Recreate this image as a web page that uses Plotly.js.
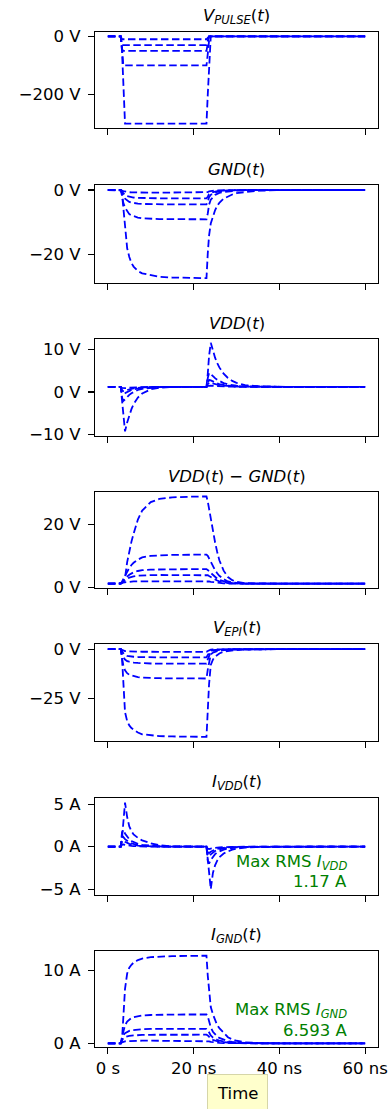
<!DOCTYPE html>
<html>
<head>
<meta charset="utf-8">
<script src="https://cdn.plot.ly/plotly-3.0.1.min.js"></script>
<style>html,body{margin:0;padding:0;background:#fff;}#chart{width:388px;height:1109px;}</style>
</head>
<body>
<div id="chart"></div>
<script>
// time samples (ns)
const t_ns = [0, 3, 3.3, 3.6, 4, 4.5, 5, 5.5, 6, 7, 8, 10, 12, 15, 19, 23, 23.3, 23.6, 24, 24.5, 25, 25.5, 26, 27, 28, 29, 30, 32, 35, 40, 50, 60];

// series order: pulse of -10, -30, -50, -100, -300 V
const seriesNames = ['-10 V', '-30 V', '-50 V', '-100 V', '-300 V'];

const vPulse = [
  [0,0,-10,-10,-10,-10,-10,-10,-10,-10,-10,-10,-10,-10,-10,-10, -5,0,0,0,0,0,0,0,0,0,0,0,0,0,0,0],
  [0,0,-30,-30,-30,-30,-30,-30,-30,-30,-30,-30,-30,-30,-30,-30, -15,0,0,0,0,0,0,0,0,0,0,0,0,0,0,0],
  [0,0,-45,-50,-50,-50,-50,-50,-50,-50,-50,-50,-50,-50,-50,-50, -25,0,0,0,0,0,0,0,0,0,0,0,0,0,0,0],
  [0,0,-40,-100,-100,-100,-100,-100,-100,-100,-100,-100,-100,-100,-100,-100, -60,-15,0,0,0,0,0,0,0,0,0,0,0,0,0,0],
  [0,0,-50,-160,-300,-300,-300,-300,-300,-300,-300,-300,-300,-300,-300,-300, -200,-100,0,0,0,0,0,0,0,0,0,0,0,0,0,0]
];

const vGnd = [
  [0,0,-0.17,-0.37,-0.5,-0.62,-0.69,-0.73,-0.76,-0.79,-0.81,-0.83,-0.834,-0.837,-0.84,-0.84, -0.67,-0.42,-0.28,-0.2,-0.14,-0.11,-0.08,-0.06,-0.04,-0.025,-0.017,-0.008,-0.003,0,0,0],
  [0,0,-0.52,-1.14,-1.56,-1.92,-2.13,-2.26,-2.34,-2.44,-2.51,-2.56,-2.58,-2.59,-2.6,-2.6, -2.08,-1.3,-0.86,-0.62,-0.44,-0.34,-0.26,-0.18,-0.12,-0.08,-0.05,-0.03,-0.01,0,0,0],
  [0,0,-0.9,-2.0,-2.7,-3.3,-3.7,-3.9,-4.05,-4.23,-4.34,-4.43,-4.47,-4.49,-4.5,-4.5, -3.6,-2.25,-1.5,-1.08,-0.77,-0.59,-0.45,-0.32,-0.2,-0.14,-0.09,-0.045,-0.02,0,0,0],
  [0,0,-1.8,-4.0,-5.5,-6.7,-7.5,-7.9,-8.2,-8.55,-8.8,-8.96,-9.04,-9.07,-9.1,-9.1, -7.3,-4.55,-3.0,-2.2,-1.55,-1.2,-0.9,-0.64,-0.41,-0.27,-0.18,-0.09,-0.04,-0.01,0,0],
  [0,0,-1.1,-5.2,-12.3,-18.1,-20.8,-22.7,-23.8,-25.2,-25.9,-26.4,-27.0,-27.2,-27.35,-27.4, -19.7,-14.2,-10.4,-7.9,-6.3,-4.9,-4.0,-2.7,-2.0,-1.4,-1.0,-0.6,-0.22,-0.05,0,0]
];

const vVdd = [
  [1.2,1.2,0.955,0.87,0.9,0.96,1.01,1.05,1.08,1.13,1.15,1.18,1.19,1.2,1.2,1.2, 1.41,1.53,1.51,1.45,1.41,1.37,1.34,1.29,1.26,1.24,1.23,1.21,1.2,1.2,1.2,1.2],
  [1.2,1.2,0.46,0.2,0.31,0.49,0.63,0.75,0.84,0.98,1.06,1.15,1.18,1.2,1.2,1.2, 1.82,2.19,2.12,1.95,1.81,1.7,1.61,1.47,1.38,1.32,1.28,1.24,1.21,1.2,1.2,1.2],
  [1.2,1.2,-0.03,-0.46,-0.29,0.01,0.25,0.45,0.6,0.83,0.97,1.11,1.165,1.2,1.2,1.2, 2.24,2.84,2.72,2.45,2.22,2.03,1.87,1.65,1.49,1.4,1.33,1.26,1.22,1.2,1.2,1.2],
  [1.2,1.2,-1.25,-2.13,-1.78,-1.18,-0.69,-0.3,0.01,0.46,0.74,1.02,1.13,1.2,1.2,1.2, 3.28,4.5,4.25,3.7,3.25,2.87,2.55,2.1,1.79,1.6,1.47,1.32,1.235,1.207,1.2,1.2],
  [1.2,1.2,-1.95,-5.6,-9.3,-7.2,-5.3,-4.05,-2.9,-1.32,-0.38,0.62,0.99,1.16,1.2,1.2, 4.3,8.5,11.6,9.7,8.1,6.8,5.8,4.3,3.3,2.6,2.14,1.62,1.34,1.22,1.2,1.2]
];

const vVddMinusGnd = [
  [1.2,1.2,1.4,1.55,1.65,1.75,1.83,1.88,1.91,1.94,1.95,1.96,1.97,1.97,1.97,1.97, 1.94,1.88,1.78,1.67,1.57,1.48,1.41,1.31,1.24,1.21,1.2,1.2,1.2,1.2,1.2,1.2],
  [1.2,1.2,1.5,1.85,2.3,2.75,3.1,3.35,3.5,3.72,3.83,3.91,3.93,3.94,3.95,3.95, 3.85,3.6,3.25,2.85,2.5,2.2,1.95,1.6,1.4,1.28,1.22,1.2,1.2,1.2,1.2,1.2],
  [1.2,1.2,1.6,2.1,2.7,3.4,4.0,4.45,4.8,5.2,5.45,5.65,5.72,5.76,5.78,5.8, 5.6,5.2,4.6,3.9,3.3,2.8,2.4,1.85,1.5,1.35,1.27,1.21,1.2,1.2,1.2,1.2],
  [1.2,1.2,1.8,2.6,3.6,5.0,6.2,7.1,7.8,8.8,9.5,10.0,10.2,10.3,10.35,10.4, 10.0,9.2,7.9,6.6,5.5,4.5,3.7,2.6,1.9,1.55,1.38,1.22,1.2,1.2,1.2,1.2],
  [1.2,1.2,1.5,2.2,3.0,8.0,11.5,14.5,17.0,21.5,24.3,27.0,28.0,28.5,28.7,28.8, 27.2,24.8,22.0,18.1,14.3,11.2,8.6,5.3,3.3,2.3,1.8,1.35,1.22,1.2,1.2,1.2]
];

const vEpi = [
  [0,0,-0.41,-0.75,-0.98,-1.12,-1.18,-1.22,-1.25,-1.29,-1.32,-1.34,-1.35,-1.355,-1.36,-1.36, -0.95,-0.54,-0.25,-0.16,-0.12,-0.09,-0.07,-0.04,-0.03,-0.02,-0.014,-0.007,0,0,0,0],
  [0,0,-1.26,-2.3,-3.0,-3.44,-3.65,-3.78,-3.86,-3.99,-4.07,-4.14,-4.16,-4.18,-4.19,-4.2, -2.94,-1.68,-0.76,-0.5,-0.36,-0.27,-0.21,-0.13,-0.08,-0.06,-0.04,-0.02,-0.01,0,0,0],
  [0,0,-2.2,-4.1,-5.3,-6.1,-6.4,-6.7,-6.8,-7.0,-7.18,-7.29,-7.33,-7.36,-7.39,-7.4, -5.2,-3.0,-1.33,-0.89,-0.63,-0.48,-0.37,-0.22,-0.15,-0.1,-0.07,-0.04,-0.015,0,0,0],
  [0,0,-4.5,-8.2,-10.7,-12.2,-13.0,-13.4,-13.7,-14.2,-14.45,-14.7,-14.75,-14.83,-14.87,-14.9, -10.4,-6.0,-2.7,-1.8,-1.27,-0.97,-0.75,-0.45,-0.3,-0.21,-0.15,-0.075,-0.03,0,0,0],
  [0,0,-4.5,-17.8,-32.0,-36.5,-38.7,-40.0,-40.9,-42.3,-43.2,-43.8,-44.1,-44.3,-44.4,-44.5, -31.2,-17.8,-8.0,-5.3,-3.8,-2.9,-2.2,-1.3,-0.9,-0.6,-0.45,-0.22,-0.09,0,0,0]
];

const iVdd = [
  [0,0,0.24,0.28,0.22,0.16,0.12,0.095,0.076,0.048,0.03,0.014,0.006,0,0,0, -0.24,-0.28,-0.22,-0.16,-0.12,-0.095,-0.076,-0.048,-0.03,-0.02,-0.013,-0.006,0,0,0,0],
  [0,0,0.64,0.75,0.59,0.44,0.33,0.26,0.2,0.13,0.08,0.04,0.015,0.004,0,0, -0.64,-0.75,-0.59,-0.44,-0.33,-0.26,-0.2,-0.13,-0.08,-0.05,-0.034,-0.015,-0.004,0,0,0],
  [0,0,0.98,1.15,0.9,0.67,0.51,0.39,0.31,0.2,0.13,0.06,0.023,0.006,0,0, -0.98,-1.15,-0.9,-0.67,-0.51,-0.39,-0.31,-0.2,-0.13,-0.08,-0.05,-0.023,-0.006,0,0,0],
  [0,0,1.7,2.0,1.56,1.16,0.88,0.68,0.54,0.34,0.22,0.1,0.04,0.01,0,0, -1.7,-2.0,-1.56,-1.16,-0.88,-0.68,-0.54,-0.34,-0.22,-0.14,-0.09,-0.04,-0.01,0,0,0],
  [0,0,1.0,3.0,5.2,3.5,2.4,1.85,1.45,1.05,0.75,0.4,0.17,0.05,0.01,0, -1.5,-3.5,-5.0,-3.1,-2.2,-1.65,-1.25,-0.8,-0.52,-0.34,-0.22,-0.1,-0.03,0,0,0]
];

const iGnd = [
  [0,0,0.15,0.24,0.28,0.31,0.33,0.34,0.35,0.36,0.365,0.37,0.37,0.37,0.37,0.37, 0.34,0.28,0.2,0.15,0.11,0.09,0.07,0.045,0.028,0.018,0.012,0.005,0.002,0,0,0],
  [0,0,0.4,0.7,0.86,0.97,1.03,1.07,1.1,1.14,1.16,1.18,1.19,1.19,1.19,1.19, 1.1,0.9,0.66,0.48,0.36,0.29,0.23,0.14,0.09,0.06,0.04,0.015,0.005,0,0,0],
  [0,0,0.6,1.1,1.4,1.6,1.72,1.8,1.85,1.92,1.95,1.98,1.99,2.0,2.0,2.0, 1.85,1.5,1.1,0.8,0.6,0.48,0.38,0.24,0.15,0.1,0.06,0.025,0.008,0,0,0],
  [0,0,0.9,1.8,2.5,3.0,3.3,3.5,3.6,3.75,3.83,3.9,3.94,3.96,3.97,3.97, 3.7,3.1,2.2,1.6,1.2,0.95,0.75,0.47,0.3,0.19,0.12,0.05,0.015,0,0,0],
  [0,0,0.5,3.0,7.5,9.6,10.4,10.8,11.1,11.45,11.65,11.85,11.95,12.0,12.03,12.05, 9.3,7.0,5.0,4.0,3.1,2.5,2.1,1.4,0.85,0.55,0.36,0.15,0.05,0.01,0,0]
];

// subplot titles and axis ticks
const panelTitles = [
  '<i>V</i><sub><i>PULSE</i></sub>(<i>t</i>)',
  '<i>GND</i>(<i>t</i>)',
  '<i>VDD</i>(<i>t</i>)',
  '<i>VDD</i>(<i>t</i>) \u2212 <i>GND</i>(<i>t</i>)',
  '<i>V</i><sub><i>EPI</i></sub>(<i>t</i>)',
  '<i>I</i><sub><i>VDD</i></sub>(<i>t</i>)',
  '<i>I</i><sub><i>GND</i></sub>(<i>t</i>)'
];
const yTickVals = [[0, -200], [0, -20], [10, 0, -10], [20, 0], [0, -25], [5, 0, -5], [10, 0]];
const yTickText = [['0 V', '\u2212200 V'], ['0 V', '\u221220 V'], ['10 V', '0 V', '\u221210 V'], ['20 V', '0 V'], ['0 V', '\u221225 V'], ['5 A', '0 A', '\u22125 A'], ['10 A', '0 A']];
const xTickVals = [0, 20, 40, 60];
const xTickText = ['0 s', '20 ns', '40 ns', '60 ns'];
const rmsLabels = [['Max RMS <i>I</i><sub><i>VDD</i></sub>', '1.17 A'], ['Max RMS <i>I</i><sub><i>GND</i></sub>', '6.593 A']];

// ---- layout geometry (pixels) ----
const W = 388, H = 1109;
const plotLeft = 95, plotRight = 378;
const panelTopPx = [32, 185, 339, 492, 644, 798, 951];
const panelBotPx = [128, 283, 436, 588, 741, 895, 1047];
const yRanges = [[-315, 15], [-28.9, 1.55], [-10.4, 12.5], [-0.18, 30.2], [-46.6, 2.6], [-5.7, 5.75], [-0.5, 12.7]];

const panels = [vPulse, vGnd, vVdd, vVddMinusGnd, vEpi, iVdd, iGnd];
const FONT = 'DejaVu Sans, sans-serif';
const FS = 16.5;

const traces = [];
panels.forEach((p, k) => {
  p.forEach((ys, s) => {
    traces.push({
      x: t_ns, y: ys, name: seriesNames[s], type: 'scatter', mode: 'lines',
      xaxis: 'x' + (k + 1), yaxis: 'y' + (k + 1),
      line: {color: '#0000ff', width: 1.8, dash: '7.5px,3.5px'},
      hoverinfo: 'skip', showlegend: false
    });
  });
});

const layout = {
  width: W, height: H,
  margin: {l: 0, r: 0, t: 0, b: 0},
  paper_bgcolor: '#ffffff', plot_bgcolor: '#ffffff',
  font: {family: FONT, size: FS, color: '#000000'},
  showlegend: false,
  annotations: []
};

for (let k = 0; k < 7; k++) {
  const xa = 'xaxis' + (k + 1), ya = 'yaxis' + (k + 1);
  layout[xa] = {
    domain: [plotLeft / W, plotRight / W], range: [-3, 63], anchor: 'y' + (k + 1),
    tickmode: 'array', tickvals: xTickVals, ticktext: xTickText,
    showticklabels: k === 6,
    showline: true, mirror: true, linecolor: '#000', linewidth: 1.1,
    ticks: 'outside', ticklen: 6, tickwidth: 1.1, tickcolor: '#000',
    showgrid: false, zeroline: false,
    tickfont: {family: FONT, size: FS, color: '#000'}
  };
  layout[ya] = {
    domain: [1 - panelBotPx[k] / H, 1 - panelTopPx[k] / H], range: yRanges[k], anchor: 'x' + (k + 1),
    tickmode: 'array', tickvals: yTickVals[k], ticktext: yTickText[k],
    showline: true, mirror: true, linecolor: '#000', linewidth: 1.1,
    ticks: 'outside', ticklen: 6, tickwidth: 1.1, tickcolor: '#000',
    showgrid: false, zeroline: false, ticklabelstandoff: 4,
    tickfont: {family: FONT, size: FS, color: '#000'}
  };
  layout.annotations.push({
    text: panelTitles[k], xref: 'paper', yref: 'paper',
    x: (plotLeft + plotRight) / 2 / W, y: 1 - (panelTopPx[k] - 15.5) / H,
    xanchor: 'center', yanchor: 'middle', showarrow: false,
    font: {family: FONT, size: FS, color: '#000'}
  });
}

// RMS annotations (green)
const rmsY = [[862, 881.5], [1010.7, 1030.5]];
rmsLabels.forEach((lines, j) => {
  lines.forEach((txt, i) => {
    layout.annotations.push({
      text: txt, xref: 'paper', yref: 'paper',
      x: 349 / W, y: 1 - rmsY[j][i] / H, xanchor: 'right', yanchor: 'middle',
      showarrow: false, font: {family: FONT, size: FS, color: '#008000'}
    });
  });
});

// x-axis label box
layout.annotations.push({
  text: 'Time', xref: 'paper', yref: 'paper', x: 237.5 / W, y: 1 - 1093 / H,
  xanchor: 'center', yanchor: 'middle', showarrow: false,
  font: {family: FONT, size: FS, color: '#000'},
  bgcolor: '#ffffcc', bordercolor: '#d6d6a8', borderwidth: 1, borderpad: 9
});

Plotly.newPlot('chart', traces, layout, {staticPlot: true, displayModeBar: false});
</script>
</body>
</html>
